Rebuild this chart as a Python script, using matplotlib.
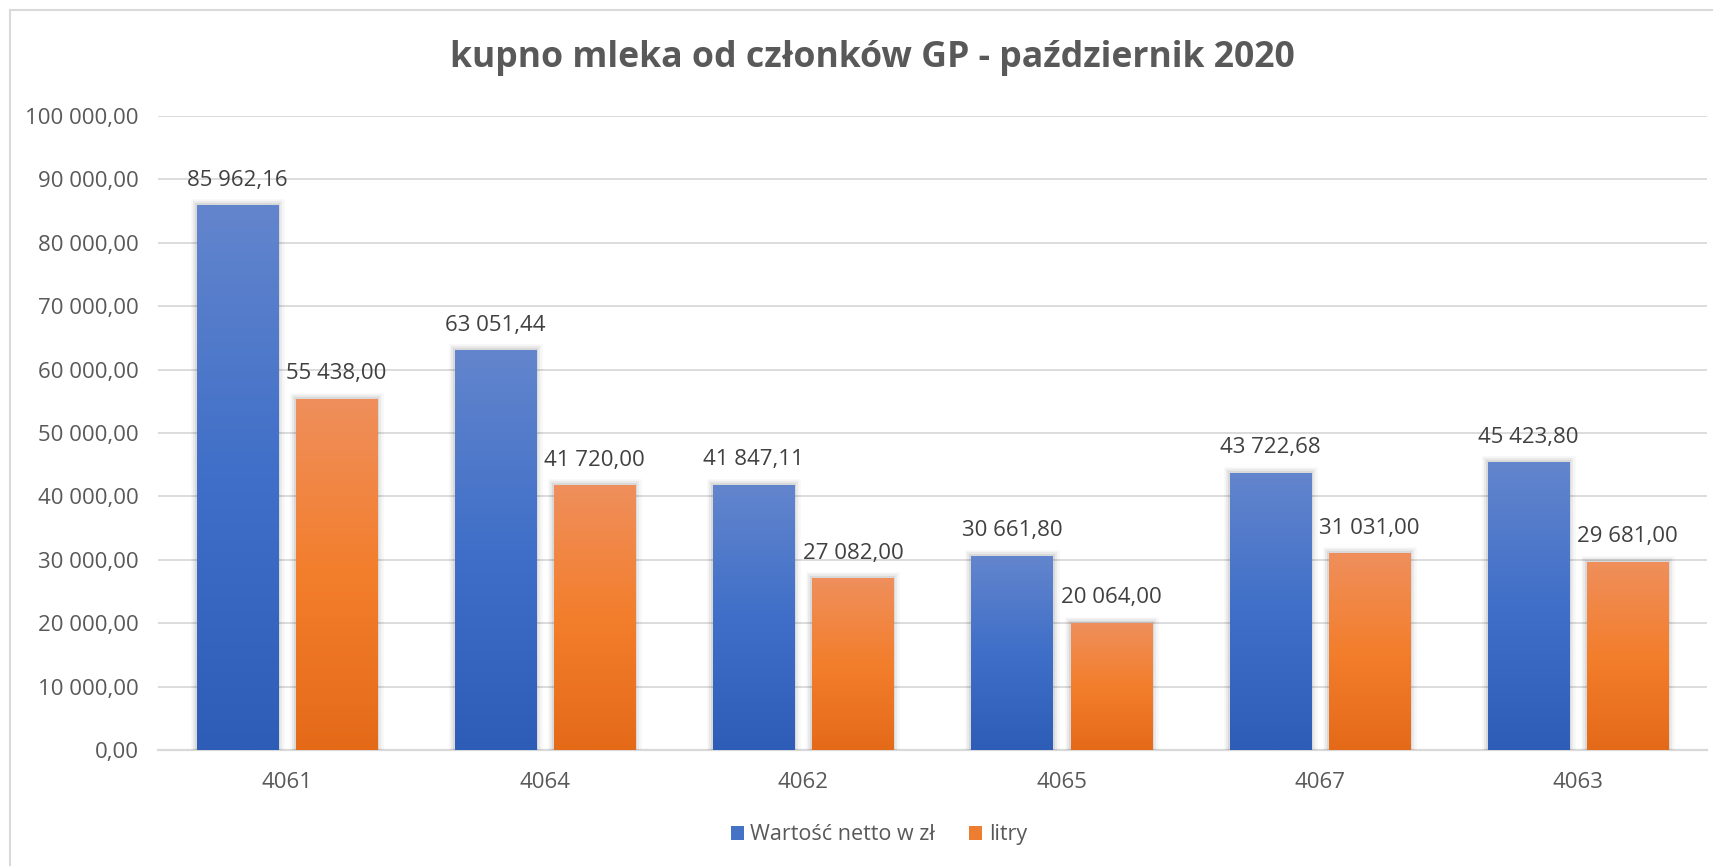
import numpy as np
import matplotlib
matplotlib.use('Agg')
import matplotlib.pyplot as plt
import matplotlib.patheffects as pe
from matplotlib.colors import LinearSegmentedColormap
from matplotlib.patches import Rectangle

plt.rcParams['font.family'] = ['Open Sans', 'DejaVu Sans']

# dane z wykresu
kategorie = ['4061', '4064', '4062', '4065', '4067', '4063']
wartosc_netto = [85962.16, 63051.44, 41847.11, 30661.80, 43722.68, 45423.80]
litry = [55438.00, 41720.00, 27082.00, 20064.00, 31031.00, 29681.00]
nazwy_serii = ['Wartość netto w zł', 'litry']
tytul = 'kupno mleka od członków GP - październik 2020'

# gradienty (dol -> gora)
cmap_blue = LinearSegmentedColormap.from_list('b', ['#2D5DB7', '#3F6FC8', '#6385CD'])
cmap_orange = LinearSegmentedColormap.from_list('o', ['#E46A18', '#F37E2C', '#EF8F5C'])


def fmt(v):
    s = f'{v:,.2f}'
    return s.replace(',', ' ').replace('.', ',')


fig = plt.figure(figsize=(17.13, 8.66), dpi=100)
ax = fig.add_axes([0.0922, 0.134, 0.9043, 0.732])

x = np.arange(len(kategorie))
w = 0.314
off = w / 2 + 0.035

grad = np.linspace(0, 1, 256).reshape(-1, 1)
for vals, sign, cmap in [(wartosc_netto, -1, cmap_blue), (litry, 1, cmap_orange)]:
    bars = ax.bar(x + sign * off, vals, w, color='none', zorder=2,
                  path_effects=[pe.withStroke(linewidth=9, foreground='#000000', alpha=0.03),
                                pe.withStroke(linewidth=6, foreground='#000000', alpha=0.05),
                                pe.withStroke(linewidth=3, foreground='#000000', alpha=0.07)])
    for b, v in zip(bars, vals):
        x0 = b.get_x()
        im = ax.imshow(grad, cmap=cmap, origin='lower', aspect='auto',
                       extent=[x0, x0 + w, 0, v], zorder=3)
        im.set_clip_path(b)
        ax.annotate(fmt(v), (x0 + w / 2, v), xytext=(0, 18), textcoords='offset points',
                    ha='center', va='center', fontsize=16, color='#404040')

ax.set_xlim(-0.5, len(kategorie) - 0.5)
ax.set_ylim(0, 100000)
ax.set_yticks(np.arange(0, 100001, 10000))
ax.set_yticklabels([fmt(t) for t in np.arange(0, 100001, 10000)])
ax.set_xticks(x)
ax.set_xticklabels(kategorie)
ax.tick_params(length=0, labelsize=16, colors='#595959', pad=14)
ax.tick_params(axis='x', pad=16)
ax.grid(axis='y', color='#D9D9D9', linewidth=1.3, zorder=0)
ax.set_axisbelow(True)
for s in ['top', 'right', 'left']:
    ax.spines[s].set_visible(False)
ax.spines['bottom'].set_color('#D9D9D9')
ax.spines['bottom'].set_linewidth(1.6)
ax.spines['bottom'].set_zorder(1)

fig.text(0.509, 0.933, tytul, ha='center', va='center', fontsize=25.7,
         fontweight='bold', color='#595959')

# legenda
handles = [Rectangle((0, 0), 1, 1, facecolor='#4472C4'), Rectangle((0, 0), 1, 1, facecolor='#ED7D31')]
fig.legend(handles, nazwy_serii, loc='center', bbox_to_anchor=(0.513, 0.036), ncol=2,
           frameon=False, fontsize=15.5, labelcolor='#595959', handlelength=0.6,
           handleheight=0.6, handletextpad=0.3, columnspacing=1.6)

# ramka wykresu
fig.add_artist(Rectangle((10 / 1713, -0.1), 1.2, 1.1 - 10 / 866, transform=fig.transFigure,
                         facecolor='none', edgecolor='#D9D9D9', linewidth=1.5))

fig.savefig('out.png', dpi=100)
